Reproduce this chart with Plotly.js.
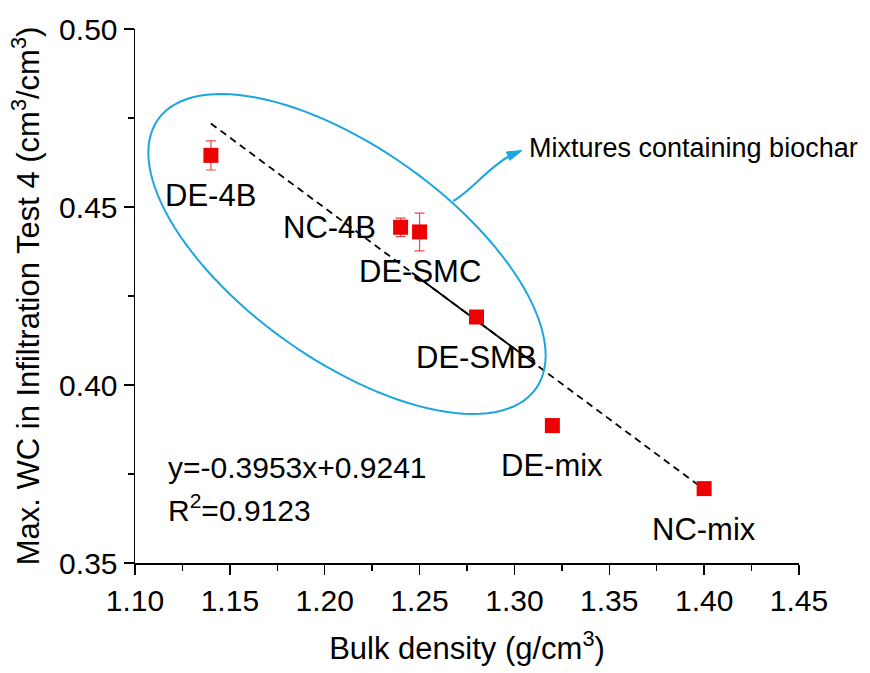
<!DOCTYPE html>
<html>
<head>
<meta charset="utf-8">
<script src="https://cdn.plot.ly/plotly-3.0.1.min.js"></script>
<style>html,body{margin:0;padding:0;background:#fff;}#chart{width:870px;height:673px;}</style>
</head>
<body>
<div id="chart"></div>
<script>
// ---- data ----
const sampleNames = ['DE-4B', 'NC-4B', 'DE-SMC', 'DE-SMB', 'DE-mix', 'NC-mix'];
const bulkDensity = [1.14, 1.24, 1.25, 1.28, 1.32, 1.40];
const maxWC = [0.4645, 0.4443, 0.4430, 0.4191, 0.3886, 0.3709];
const maxWCErr = [0.0041, 0.0026, 0.0053, 0, 0, 0];
const fitSlope = -0.3953;
const fitIntercept = 0.9241;
const fitRange = [1.14, 1.40];
const fitSolidRange = [1.246, 1.311];
const equationText = 'y=-0.3953x+0.9241';
const r2Text = 'R<sup>2</sup>=0.9123';
const groupLabel = 'Mixtures containing biochar';
const xTickVals = [1.10, 1.15, 1.20, 1.25, 1.30, 1.35, 1.40, 1.45];
const yTickVals = [0.35, 0.40, 0.45, 0.50];

// ---- layout geometry ----
const W = 870, H = 673;
const M = {l: 135, r: 71, t: 29, b: 110};
const xRange = [1.10, 1.45], yRange = [0.35, 0.50];
const PW = W - M.l - M.r, PH = H - M.t - M.b;
const toX = px => xRange[0] + (px - M.l) / PW * (xRange[1] - xRange[0]);
const toY = py => yRange[1] - (py - M.t) / PH * (yRange[1] - yRange[0]);
const FONT = 'Liberation Sans, Arial, sans-serif';
const CYAN = '#1ba6df';

const fitY = x => fitSlope * x + fitIntercept;

const traces = [
  {
    x: fitRange, y: fitRange.map(fitY), mode: 'lines', type: 'scatter',
    line: {color: '#000', width: 1.8, dash: '7px,5px'}, hoverinfo: 'skip', showlegend: false
  },
  {
    x: fitSolidRange, y: fitSolidRange.map(fitY), mode: 'lines', type: 'scatter',
    line: {color: '#000', width: 1.8}, hoverinfo: 'skip', showlegend: false
  },
  {
    x: bulkDensity, y: maxWC, mode: 'markers', type: 'scatter',
    marker: {symbol: 'square', size: 15, color: '#ee0000', line: {width: 0}},
    error_y: {type: 'data', array: maxWCErr, visible: true, color: '#f04848', thickness: 1.2, width: 5},
    showlegend: false
  }
];

// ellipse (pixel geometry -> data coords)
const ell = {cx: 347, cy: 254, a: 232, b: 106, rot: 35.5 * Math.PI / 180};
let ellPath = '';
for (let i = 0; i <= 120; i++) {
  const t = i / 120 * 2 * Math.PI;
  const ex = ell.a * Math.cos(t), ey = ell.b * Math.sin(t);
  const px = ell.cx + ex * Math.cos(ell.rot) - ey * Math.sin(ell.rot);
  const py = ell.cy + ex * Math.sin(ell.rot) + ey * Math.cos(ell.rot);
  ellPath += (i === 0 ? 'M' : 'L') + toX(px) + ',' + toY(py);
}
ellPath += 'Z';

// curved arrow
const cp = [[453, 201], [470, 192], [488, 168], [508, 157]];
const curvePath = 'M' + toX(cp[0][0]) + ',' + toY(cp[0][1]) +
  ' C' + toX(cp[1][0]) + ',' + toY(cp[1][1]) + ' ' + toX(cp[2][0]) + ',' + toY(cp[2][1]) +
  ' ' + toX(cp[3][0]) + ',' + toY(cp[3][1]);
const tip = [522, 150.5];
const ang = Math.atan2(tip[1] - 157, tip[0] - 506);
const hl = 15, hw = 4.5;
const bx = tip[0] - hl * Math.cos(ang), by = tip[1] - hl * Math.sin(ang);
const p1 = [bx - hw * Math.sin(ang), by + hw * Math.cos(ang)];
const p2 = [bx + hw * Math.sin(ang), by - hw * Math.cos(ang)];
const headPath = 'M' + toX(tip[0]) + ',' + toY(tip[1]) + ' L' + toX(p1[0]) + ',' + toY(p1[1]) +
  ' L' + toX(p2[0]) + ',' + toY(p2[1]) + ' Z';

const shapes = [
  {type: 'path', xref: 'x', yref: 'y', path: ellPath, line: {color: CYAN, width: 2}},
  {type: 'path', xref: 'x', yref: 'y', path: curvePath, line: {color: CYAN, width: 2}},
  {type: 'path', xref: 'x', yref: 'y', path: headPath, line: {color: CYAN, width: 1}, fillcolor: CYAN}
];

// point labels: offsets in pixels
const labelShift = {
  'DE-4B': [0, -40], 'NC-4B': [-71, 0], 'DE-SMC': [0, -40],
  'DE-SMB': [0, -40], 'DE-mix': [0, -40], 'NC-mix': [0, -41]
};
const annotations = sampleNames.map((n, i) => ({
  x: bulkDensity[i], y: maxWC[i], xref: 'x', yref: 'y', text: n, showarrow: false,
  xanchor: 'center', yanchor: 'middle', xshift: labelShift[n][0], yshift: labelShift[n][1],
  font: {family: FONT, size: 31, color: '#000'}
}));
annotations.push(
  {x: toX(166), y: toY(467), xref: 'x', yref: 'y', text: equationText, showarrow: false,
   xanchor: 'left', yanchor: 'middle', font: {family: FONT, size: 30, color: '#000'}},
  {x: toX(166), y: toY(508), xref: 'x', yref: 'y', text: r2Text, showarrow: false,
   xanchor: 'left', yanchor: 'middle', font: {family: FONT, size: 30, color: '#000'}},
  {x: toX(527), y: toY(148), xref: 'x', yref: 'y', text: groupLabel, showarrow: false,
   xanchor: 'left', yanchor: 'middle', font: {family: FONT, size: 27, color: '#000'}}
);

const axisCommon = {
  showline: true, linecolor: '#000', linewidth: 1.5, showgrid: false, zeroline: false,
  ticks: 'outside', ticklen: 10, tickwidth: 1.5, tickcolor: '#000',
  tickfont: {family: FONT, size: 30, color: '#000'}, mirror: false, automargin: false
};

const layout = {
  width: W, height: H, margin: M, paper_bgcolor: '#fff', plot_bgcolor: '#fff',
  showlegend: false,
  xaxis: Object.assign({}, axisCommon, {
    range: xRange, tickvals: xTickVals, ticktext: xTickVals.map(v => v.toFixed(2)),
    minor: {dtick: 0.025, tick0: 1.10, ticklen: 6, tickwidth: 1.5, tickcolor: '#000', ticks: 'outside'},
    title: {text: 'Bulk density (g/cm<sup>3</sup>)', font: {family: FONT, size: 31, color: '#000'}, standoff: 22}
  }),
  yaxis: Object.assign({}, axisCommon, {
    range: yRange, tickvals: yTickVals, ticktext: yTickVals.map(v => v.toFixed(2)),
    minor: {dtick: 0.025, tick0: 0.35, ticklen: 6, tickwidth: 1.5, tickcolor: '#000', ticks: 'outside'},
    title: {text: 'Max. WC in Infiltration Test 4 (cm<sup>3</sup>/cm<sup>3</sup>)', font: {family: FONT, size: 31, color: '#000'}, standoff: 10}
  }),
  shapes: shapes,
  annotations: annotations
};

Plotly.newPlot('chart', traces, layout, {displayModeBar: false, staticPlot: true});
</script>
</body>
</html>
